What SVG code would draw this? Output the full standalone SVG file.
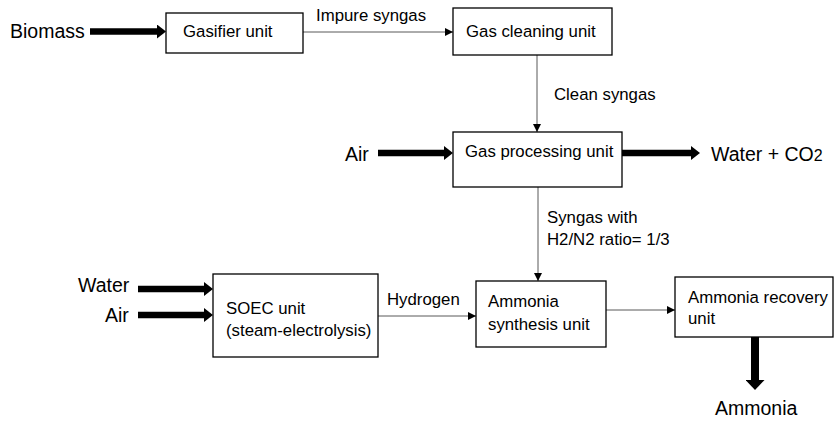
<svg xmlns="http://www.w3.org/2000/svg" width="836" height="423" viewBox="0 0 836 423">
<style>
.box{fill:#fff;stroke:#000;stroke-width:1.3}
.t{font-family:"Liberation Sans",Arial,sans-serif;font-size:16.8px;fill:#000}
.big{font-family:"Liberation Sans",Arial,sans-serif;font-size:19.5px;fill:#000}
.thin{stroke:#595959;stroke-width:1;fill:none;marker-end:url(#ah)}
.thick{stroke:#000;stroke-width:6.5;fill:none;marker-end:url(#th)}
</style>
<defs>
<marker id="ah" markerUnits="userSpaceOnUse" markerWidth="8" markerHeight="8" viewBox="0 0 8 8" refX="8" refY="4" orient="auto"><path d="M0,0 L8,4 L0,8 z" fill="#000"/></marker>
<marker id="th" markerUnits="userSpaceOnUse" markerWidth="9" markerHeight="14" viewBox="0 0 9 14" refX="0" refY="7" orient="auto"><path d="M0,0 L9,7 L0,14 z" fill="#000"/></marker>
<marker id="th2" markerUnits="userSpaceOnUse" markerWidth="10" markerHeight="19" viewBox="0 0 10 19" refX="0" refY="9.5" orient="auto"><path d="M0,0 L10,9.5 L0,19 z" fill="#000"/></marker>
</defs>
<g id="connectors">
<line class="thick" x1="90" y1="31.5" x2="157" y2="31.5"/>
<line class="thin" x1="303" y1="32" x2="453" y2="32"/>
<line class="thin" x1="537" y1="55" x2="537" y2="132"/>
<line class="thick" x1="378" y1="153" x2="444" y2="153"/>
<line class="thick" x1="622" y1="153" x2="691" y2="153"/>
<line class="thin" x1="538" y1="187" x2="538" y2="281"/>
<line class="thick" x1="138" y1="289" x2="204" y2="289"/>
<line class="thick" x1="138" y1="315" x2="204" y2="315"/>
<line class="thin" x1="378" y1="316" x2="476" y2="316"/>
<line class="thin" x1="606" y1="310" x2="675" y2="310"/>
<line x1="755" y1="337" x2="755" y2="380" stroke="#000" stroke-width="8" marker-end="url(#th2)"/>
<text class="t" x="316" y="21">Impure syngas</text>
<text class="t" x="554" y="100">Clean syngas</text>
<text class="t" x="547" y="223">Syngas with</text>
<text class="t" x="547" y="245">H2/N2 ratio= 1/3</text>
<text class="t" x="387" y="305">Hydrogen</text>
</g>
<g id="biomass"><text class="big" x="10" y="38">Biomass</text></g>
<g id="gasifier"><rect class="box" x="166" y="13" width="137" height="40"/><text class="t" x="183" y="37">Gasifier unit</text></g>
<g id="gascleaning"><rect class="box" x="453" y="8" width="159" height="47"/><text class="t" x="466" y="37">Gas cleaning unit</text></g>
<g id="air1"><text class="big" x="345" y="161">Air</text></g>
<g id="gasprocessing"><rect class="box" x="453" y="132" width="169" height="55"/><text class="t" x="465" y="157">Gas processing unit</text></g>
<g id="waterco2"><text class="big" x="711" y="161">Water + CO<tspan font-size="16">2</tspan></text></g>
<g id="water"><text class="big" x="78" y="292">Water</text></g>
<g id="air2"><text class="big" x="105" y="322">Air</text></g>
<g id="soec"><rect class="box" x="213" y="274" width="165" height="83"/><text class="t" x="226" y="314">SOEC unit</text><text class="t" x="226" y="336">(steam-electrolysis)</text></g>
<g id="synthesis"><rect class="box" x="476" y="281" width="130" height="66"/><text class="t" x="488" y="307">Ammonia</text><text class="t" x="488" y="330">synthesis unit</text></g>
<g id="recovery"><rect class="box" x="675" y="277" width="158" height="60"/><text class="t" x="688" y="303">Ammonia recovery</text><text class="t" x="688" y="324">unit</text></g>
<g id="ammonia"><text class="big" x="715" y="415">Ammonia</text></g>
</svg>
